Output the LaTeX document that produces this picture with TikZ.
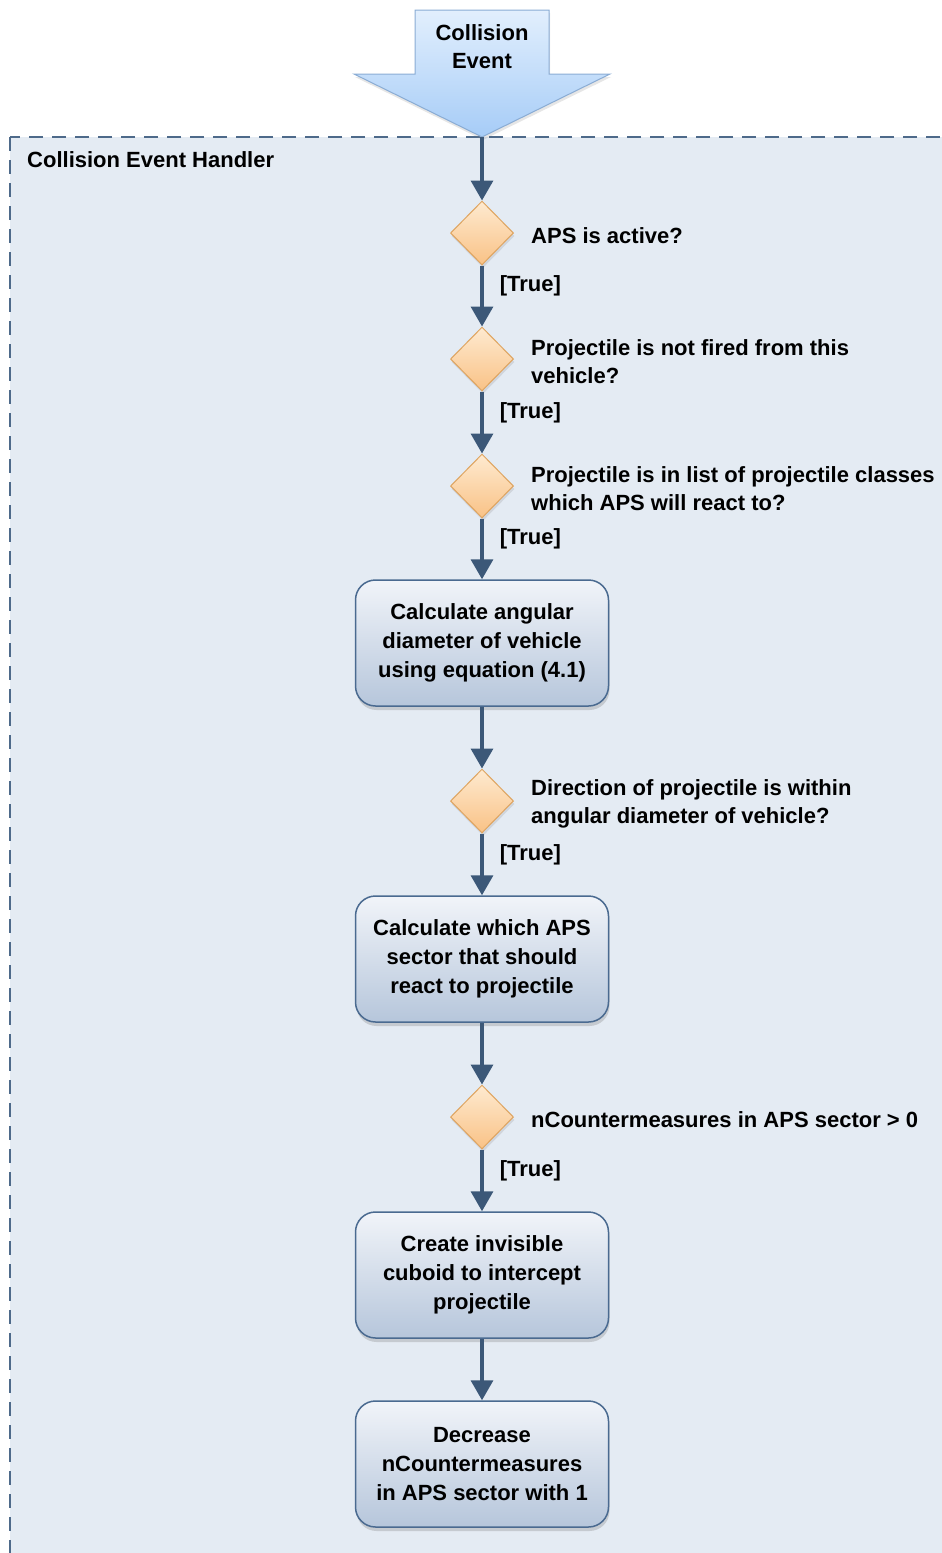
\documentclass[tikz,border=0pt]{standalone}
\usepackage{fontspec}
\setmainfont{Liberation Sans}
\usetikzlibrary{shadows}
\usetikzlibrary{positioning}
\usetikzlibrary{arrows.meta,shapes}
\usetikzlibrary{calc}
\definecolor{flowline}{RGB}{60,88,120}
\definecolor{handlerline}{RGB}{78,106,138}
\definecolor{handlerbg}{RGB}{228,235,243}
\definecolor{boxtop}{RGB}{241,244,249}
\definecolor{boxbottom}{RGB}{182,198,219}
\definecolor{boxline}{RGB}{74,106,144}
\definecolor{decisiontop}{RGB}{254,234,208}
\definecolor{decisionbottom}{RGB}{249,194,134}
\definecolor{decisionline}{RGB}{222,164,96}
\definecolor{eventtop}{RGB}{226,239,253}
\definecolor{eventbottom}{RGB}{166,204,247}
\definecolor{eventline}{RGB}{138,172,212}
\tikzstyle{decision}=[diamond,aspect=1,minimum width=63pt,minimum height=64pt,inner sep=0pt,draw=decisionline,line width=1pt,top color=decisiontop,bottom color=decisionbottom,drop shadow={opacity=0.2,shadow xshift=1pt,shadow yshift=-3pt}]
\tikzstyle{process}=[rectangle,rounded corners=20pt,minimum width=253pt,minimum height=126pt,align=center,draw=boxline,line width=1.5pt,top color=boxtop,bottom color=boxbottom,drop shadow={opacity=0.3,shadow xshift=1pt,shadow yshift=-4pt}]
\tikzstyle{flow} = [draw,flowline,line width=3.5pt,->]
\tikzstyle{guard} = [right=16pt,inner sep=0pt,pos=0.34]
\tikzstyle{question} = [anchor=west,align=left,inner sep=0pt]

\begin{document}
\begin{tikzpicture}[x=1pt, y=-1pt, >={Triangle[width=22pt,length=20pt]},
    font=\fontsize{22}{28}\selectfont\bfseries]

  \def\cx{482};

  \path[use as bounding box, clip] (0,0) rectangle (942,1553);

  % handler frame, runs past the page on the right and bottom
  \draw[handlerline, fill=handlerbg, line width=2pt, dash pattern=on 14pt off 9pt]
     (10,137) rectangle (990,1600);
  \node[anchor=west, inner sep=0pt] (handler) at (27,160) {Collision Event Handler};

  % incoming event
  \draw[eventline, line width=1pt, top color=eventtop, bottom color=eventbottom,
        drop shadow={opacity=0.2,shadow xshift=1pt,shadow yshift=-3pt}]
     (415,10) -- (549,10) -- (549,74) -- (610,74) -- (\cx,137) -- (354,74) -- (415,74) -- cycle;
  \node[align=center, inner sep=0pt] (ev) at (\cx,47) {Collision\\Event};
  \coordinate (ev-tip) at (\cx,137);

  \foreach \y/\name in {233/d1, 359/d2, 486/d3, 801/d4, 1117/d5}
     \node[decision] (\name) at (\cx,\y) {};

  \foreach \name/\question in {d1/{APS is active?},
        d2/{Projectile is not fired from this\\vehicle?},
        d3/{Projectile is in list of projectile classes\\which APS will react to?},
        d4/{Direction of projectile is within\\angular diameter of vehicle?},
        d5/{nCountermeasures in APS sector > 0}}
     \node[question] (\name-q) at ($(\name.east)+(17,3)$) {\question};

  \foreach \y/\name/\task in {643/b1/{Calculate angular\\diameter of vehicle\\using equation (4.1)},
        959/b2/{Calculate which APS\\sector that should\\react to projectile},
        1275/b3/{Create invisible\\cuboid to intercept\\projectile},
        1464/b4/{Decrease\\nCountermeasures\\in APS sector with 1}}
     \node[process, font=\fontsize{22}{29}\selectfont\bfseries] (\name) at (\cx,\y) {\task};

  \foreach \source/\dest in {d1/d2, d2/d3, d3/b1, d4/b2, d5/b3}
     \draw[flow] (\source) -- node[guard, text=black] {[True]} (\dest);
  \foreach \source/\dest in {ev-tip/d1, b1/d4, b2/d5, b3/b4}
     \draw[flow] (\source) -- (\dest);

\end{tikzpicture}
\end{document}
